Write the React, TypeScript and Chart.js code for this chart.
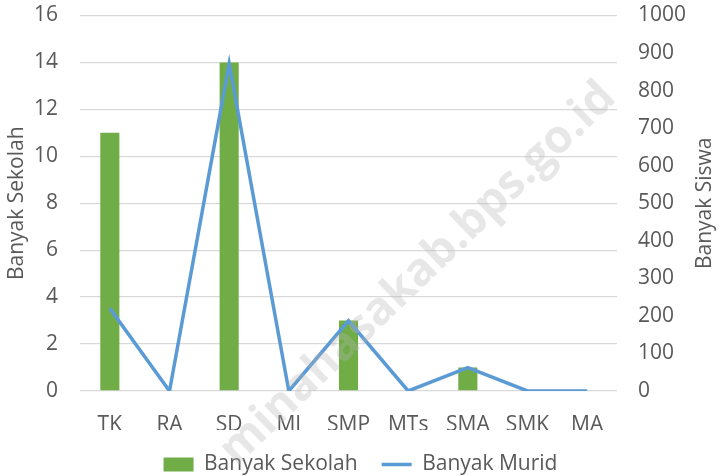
import React, { useEffect, useRef } from "react";
import { Chart, registerables } from "chart.js";

Chart.register(...registerables);

const categories = ["TK", "RA", "SD", "MI", "SMP", "MTs", "SMA", "SMK", "MA"];
const banyakSekolah = [11, 0, 14, 0, 3, 0, 1, 0, 0];
const banyakMurid = [220, 0, 872, 0, 187, 0, 62, 0, 0];
const leftTitle = "Banyak Sekolah";
const rightTitle = "Banyak Siswa";
const watermark = "minahasakab.bps.go.id";

const FONT = "'Open Sans', sans-serif";
const TEXT = "#595959";
const SIZE = 21;

const watermarkPlugin = {
  id: "watermark",
  afterDatasetsDraw(chart: any) {
    const ctx = chart.ctx;
    ctx.save();
    ctx.translate(418, 274);
    ctx.rotate(-Math.PI / 4.1);
    ctx.font = `bold 46px ${FONT}`;
    ctx.fillStyle = "rgba(180,180,180,0.32)";
    ctx.textAlign = "center";
    ctx.textBaseline = "middle";
    ctx.fillText(watermark, 0, 0);
    ctx.restore();
  },
};

const rightTitlePlugin = {
  id: "rightTitle",
  afterDraw(chart: any) {
    const ctx = chart.ctx;
    const area = chart.chartArea;
    ctx.save();
    ctx.translate(chart.width - 14, (area.top + area.bottom) / 2);
    ctx.rotate(-Math.PI / 2);
    ctx.font = `${SIZE}px ${FONT}`;
    ctx.fillStyle = TEXT;
    ctx.textAlign = "center";
    ctx.textBaseline = "middle";
    ctx.fillText(rightTitle, 0, 0);
    ctx.restore();
  },
};

export default function App() {
  const ref = useRef<HTMLCanvasElement | null>(null);
  useEffect(() => {
    document.body.style.margin = "0";
    const font = { family: FONT, size: SIZE };
    const chart = new Chart(ref.current as HTMLCanvasElement, {
      type: "bar",
      data: {
        labels: categories,
        datasets: [
          {
            type: "bar",
            label: "Banyak Sekolah",
            data: banyakSekolah,
            backgroundColor: "#70AD47",
            borderWidth: 0,
            yAxisID: "y",
            categoryPercentage: 1,
            barPercentage: 0.32,
            pointStyle: "rect",
            order: 2,
          } as any,
          {
            type: "line",
            label: "Banyak Murid",
            data: banyakMurid,
            borderColor: "#5B9BD5",
            backgroundColor: "#5B9BD5",
            borderWidth: 3.5,
            tension: 0,
            pointRadius: 0,
            yAxisID: "y1",
            pointStyle: "line",
            order: 1,
          } as any,
        ],
      },
      options: {
        animation: false,
        responsive: false,
        maintainAspectRatio: false,
        layout: { padding: { top: 0, left: 2, right: 0, bottom: -9 } },
        plugins: {
          tooltip: { enabled: false },
          legend: {
            position: "bottom",
            labels: {
              font,
              color: TEXT,
              usePointStyle: true,
              pointStyleWidth: 30,
              boxHeight: 14,
              padding: 24,
              sort: (a: any, b: any) => a.datasetIndex - b.datasetIndex,
            },
          },
        },
        scales: {
          x: {
            grid: { display: false, drawTicks: false },
            border: { display: false },
            ticks: { font, color: TEXT, padding: 21 },
            afterFit: (s: any) => {
              s.height = 39;
            },
          },
          y: {
            position: "left",
            min: 0,
            max: 16,
            ticks: { stepSize: 2, font, color: TEXT, padding: 22 },
            grid: { color: "#d9d9d9", drawTicks: false, lineWidth: 1.3 },
            border: { display: false },
            title: { display: true, text: leftTitle, font, color: TEXT, padding: 2 },
            afterFit: (s: any) => {
              s.width = 78;
              s.paddingTop = 15.5;
              s.paddingBottom = 10;
            },
          },
          y1: {
            position: "right",
            min: 0,
            max: 1000,
            ticks: {
              stepSize: 100,
              font,
              color: TEXT,
              padding: 21,
              callback: (v: any) => String(v),
            },
            grid: { display: false, drawTicks: false },
            border: { display: false },
            afterFit: (s: any) => {
              s.width = 102;
              s.paddingTop = 15.5;
              s.paddingBottom = 10;
            },
          },
        },
      },
      plugins: [watermarkPlugin, rightTitlePlugin],
    });
    return () => chart.destroy();
  }, []);
  return (
    <div style={{ width: 719, height: 476 }}>
      <canvas ref={ref} width={719} height={476} style={{ width: 719, height: 476 }} />
    </div>
  );
}
